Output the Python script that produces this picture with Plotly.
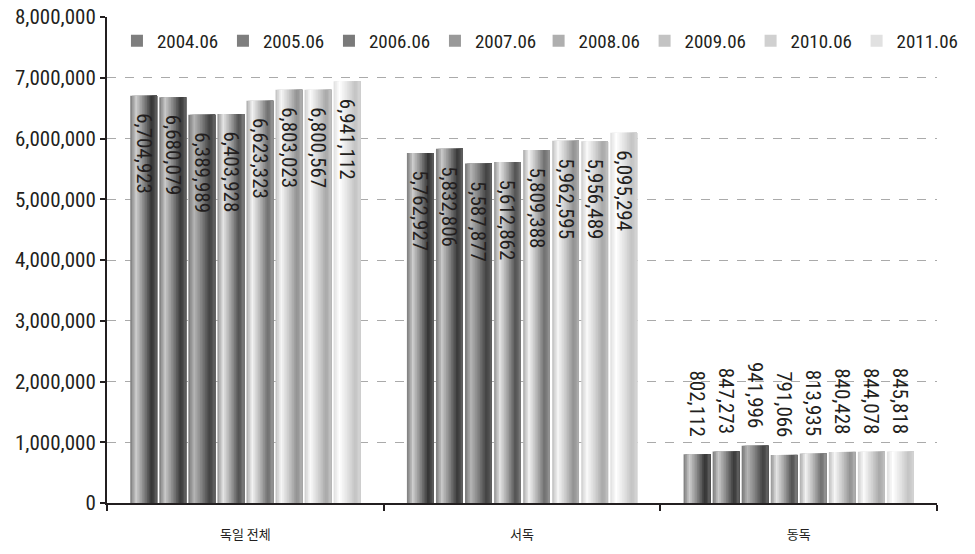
import plotly.graph_objects as go

# Population by region, each June 2004-2011
regions = ["독일 전체", "서독", "동독"]
periods = ["2004.06", "2005.06", "2006.06", "2007.06",
           "2008.06", "2009.06", "2010.06", "2011.06"]
total_germany = [6704923, 6680079, 6389989, 6403928, 6623323, 6803023, 6800567, 6941112]
west_germany = [5762927, 5832806, 5587877, 5612862, 5809388, 5962595, 5956489, 6095294]
east_germany = [802112, 847273, 941996, 791066, 813935, 840428, 844078, 845818]

values_by_period = [list(v) for v in zip(total_germany, west_germany, east_germany)]

# Cylinder shading per series: (highlight grey, shadow grey)
tones = [(205, 50), (200, 55), (180, 65), (228, 80),
         (242, 110), (246, 145), (250, 168), (255, 195)]
# Shading profile across a bar (0 = highlight, 1 = shadow)
profile_pts = [(0.0, 0.55), (0.22, 0.0), (0.5, 0.45), (0.8, 1.0), (1.0, 0.7)]
N_STRIPES = 16

SLOT = 0.105
BAR_W = 0.097
GROUP_LEFT = -SLOT * len(periods) / 2
NBSP = "\u00a0"


def shade(p):
    for (x0, y0), (x1, y1) in zip(profile_pts, profile_pts[1:]):
        if x0 <= p <= x1:
            return y0 + (y1 - y0) * (p - x0) / (x1 - x0)
    return profile_pts[-1][1]


def grey(hi, lo, t):
    g = int(round(hi + (lo - hi) * t))
    return f"rgb({g},{g},{g})"


FONT = "Roboto Condensed"
fig = go.Figure()

for i, (period, vals) in enumerate(zip(periods, values_by_period)):
    hi, lo = tones[i]
    left = GROUP_LEFT + i * SLOT + (SLOT - BAR_W) / 2
    step = BAR_W / N_STRIPES
    legend_id = "legend" if i < 4 else "legend2"
    for j in range(N_STRIPES):
        p = (j + 0.5) / N_STRIPES
        fig.add_trace(go.Bar(
            x=regions, y=vals,
            offset=left + j * step, width=BAR_W - j * step,
            marker=dict(color=grey(hi, lo, shade(p)), line=dict(width=0)),
            name=period, legendgroup=period, legend=legend_id,
            showlegend=(j == N_STRIPES // 2),
            hoverinfo="skip",
        ))

# Value labels: inside the top of tall bars, above the short ones
for i, (period, vals) in enumerate(zip(periods, values_by_period)):
    left = GROUP_LEFT + i * SLOT + (SLOT - BAR_W) / 2
    positions = ["inside" if v > 2000000 else "outside" for v in vals]
    labels = [NBSP * 3 + f"{v:,}" if pos == "inside" else f"{v:,}" + NBSP * 3
              for v, pos in zip(vals, positions)]
    fig.add_trace(go.Bar(
        x=regions, y=vals, offset=left, width=BAR_W,
        marker=dict(color="rgba(0,0,0,0)", line=dict(width=0)),
        text=labels,
        textposition=positions, textangle=90,
        insidetextanchor="end", constraintext="none",
        textfont=dict(family=FONT, size=21, color="#231f20"),
        cliponaxis=False,
        showlegend=False, legendgroup=period,
        hovertemplate="%{x} " + period + ": %{y:,}<extra></extra>",
    ))

legend_style = dict(
    orientation="h", y=0.99, xanchor="left", yanchor="top",
    font=dict(family=FONT, size=19, color="#231f20"),
    entrywidth=61, entrywidthmode="pixels",
    itemsizing="constant", bgcolor="rgba(255,255,255,0)",
    tracegroupgap=0,
)

fig.update_layout(
    width=975, height=554,
    margin=dict(l=107, r=38, t=17, b=51, autoexpand=False),
    barmode="overlay",
    plot_bgcolor="white", paper_bgcolor="white",
    font=dict(family=FONT, size=19, color="#231f20"),
    legend=dict(x=0.012, **legend_style),
    legend2=dict(x=0.52, **legend_style),
    showlegend=True,
)
fig.update_yaxes(
    range=[0, 8000000], tickvals=[i * 1000000 for i in range(9)],
    tickformat=",", showline=True, linewidth=2, linecolor="#231f20",
    ticks="outside", ticklen=5, tickwidth=2, tickcolor="#231f20",
    showgrid=True, gridcolor="#aaaaaa", griddash="dash", gridwidth=1,
    zeroline=False, tickfont=dict(family=FONT, size=21),
)
fig.update_xaxes(
    type="category", showline=True, linewidth=2, linecolor="#231f20",
    ticks="outside", tickson="boundaries", ticklen=6, tickwidth=2,
    tickcolor="#231f20", showgrid=False,
    ticklabelstandoff=18,
    tickfont=dict(family="Noto Sans CJK KR, sans-serif", size=13, color="#231f20"),
)

fig.write_html("out.html")
